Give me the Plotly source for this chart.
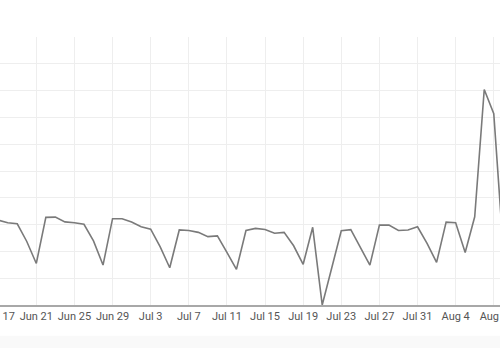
import plotly.graph_objects as go

dates = [
    "2024-06-17", "2024-06-18", "2024-06-19", "2024-06-20", "2024-06-21", "2024-06-22", "2024-06-23",
    "2024-06-24", "2024-06-25", "2024-06-26", "2024-06-27", "2024-06-28", "2024-06-29", "2024-06-30",
    "2024-07-01", "2024-07-02", "2024-07-03", "2024-07-04", "2024-07-05", "2024-07-06", "2024-07-07",
    "2024-07-08", "2024-07-09", "2024-07-10", "2024-07-11", "2024-07-12", "2024-07-13", "2024-07-14",
    "2024-07-15", "2024-07-16", "2024-07-17", "2024-07-18", "2024-07-19", "2024-07-20", "2024-07-21",
    "2024-07-22", "2024-07-23", "2024-07-24", "2024-07-25", "2024-07-26", "2024-07-27", "2024-07-28",
    "2024-07-29", "2024-07-30", "2024-07-31", "2024-08-01", "2024-08-02", "2024-08-03", "2024-08-04",
    "2024-08-05", "2024-08-06", "2024-08-07", "2024-08-08", "2024-08-09",
]
values = [
    31.7, 30.7, 30.3, 23.7, 15.5, 32.7, 32.8,
    31.0, 30.7, 30.1, 23.9, 14.9, 32.2, 32.2,
    31.0, 29.2, 28.3, 21.7, 13.9, 28.0, 27.8,
    27.1, 25.5, 25.8, 19.6, 13.3, 27.8, 28.6,
    28.2, 26.8, 27.1, 22.1, 15.2, 29.0, 0.0,
    14.3, 27.7, 28.1, 21.7, 14.9, 29.8, 29.8,
    27.8, 28.0, 29.2, 23.0, 15.9, 30.9, 30.7,
    19.6, 32.9, 80.4, 71.4, 20.5,
]

x_range = ["2024-06-12 23:50", "2024-08-12 20:25"]
y_range = [0, 100]

fig = go.Figure()
fig.add_trace(go.Scatter(
    x=dates, y=values, mode="lines",
    line=dict(color="#7a7a7a", width=1.6),
    hoverinfo="skip", showlegend=False,
))

fig.update_layout(
    width=580, height=350, autosize=False,
    margin=dict(l=0, r=0, t=37, b=45, pad=0),
    plot_bgcolor="white", paper_bgcolor="white",
    font=dict(family="Roboto, Arial, sans-serif", size=11, color="#555555"),
    xaxis=dict(
        type="date", range=x_range,
        tick0="2024-06-21", dtick=4 * 86400000,
        tickformat="%b %-d",
        showgrid=True, gridcolor="#eeeeee", gridwidth=1,
        showline=True, linecolor="#a8a8a8", linewidth=1.5,
        ticks="", zeroline=False, fixedrange=True,
    ),
    yaxis=dict(
        range=y_range, dtick=10,
        showgrid=True, gridcolor="#eeeeee", gridwidth=1,
        showticklabels=False, zeroline=False, showline=False,
        fixedrange=True,
    ),
    shapes=[dict(
        type="rect", xref="paper", yref="paper",
        x0=0, x1=1, y0=-0.16, y1=-0.115,
        fillcolor="#f9f9f9", line=dict(width=0), layer="below",
    )],
)

fig.write_html(
    "out.html",
    config={"displayModeBar": False},
    post_script=(
        "document.body.style.margin='0';"
        "document.body.style.overflow='hidden';"
        "document.getElementById('{plot_id}').style.marginLeft='-40px';"
    ),
)
